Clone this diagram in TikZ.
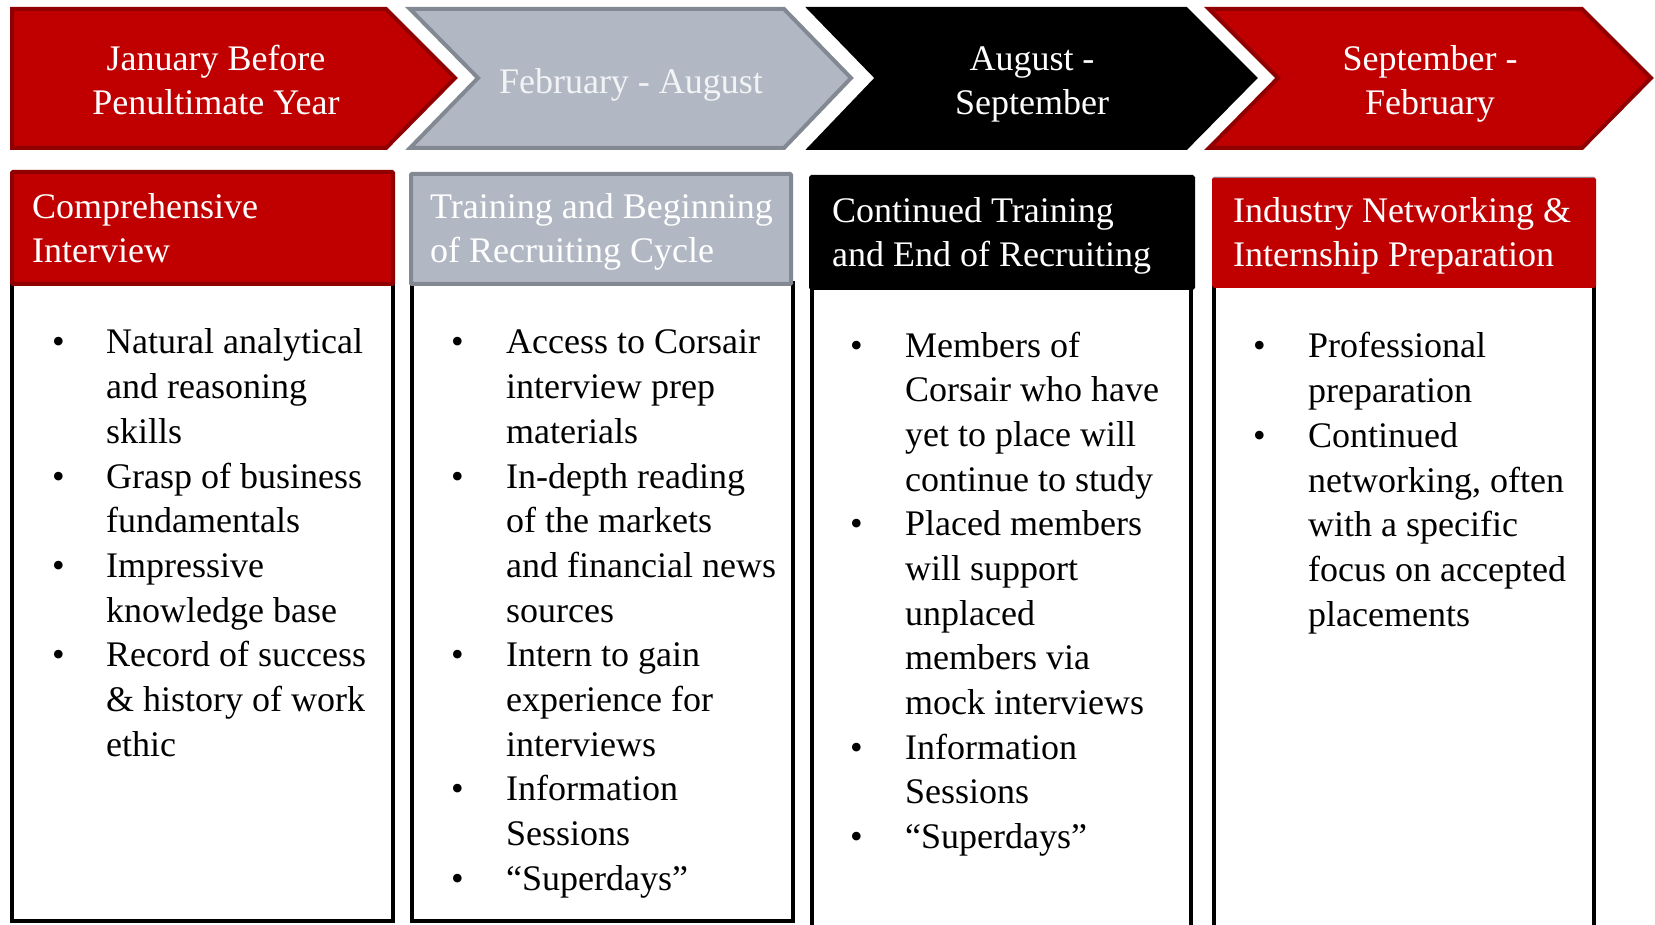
\documentclass[tikz,border=0pt]{standalone}
\usepackage{fontspec}
\setmainfont{Liberation Serif}
\usepackage{array}
\definecolor{cred}{HTML}{C00000}
\definecolor{cdred}{HTML}{900000}
\definecolor{cgray}{HTML}{B1B8C4}
\definecolor{cdgray}{HTML}{838992}
\definecolor{clight}{HTML}{F2F3F5}
\tikzset{
  chev/.style={line width=4pt, line join=miter},
  chevtext/.style={text=white, align=center, font=\fontsize{36}{44}\selectfont, inner sep=0pt},
  headbox/.style={line width=4pt, rounded corners=1pt},
  headtext/.style={text=white, align=left, anchor=west, font=\fontsize{36}{44}\selectfont, inner sep=0pt},
  bodybox/.style={draw=black, line width=4pt, fill=white},
  bodytext/.style={anchor=base west, inner sep=0pt, font=\fontsize{36}{44.7}\selectfont},
}
\begin{document}
\begin{tikzpicture}[x=1pt, y=-1pt]
\useasboundingbox[fill=white] (0,0) rectangle (1655,925);
% chevrons
\draw[chev, fill=cred, draw=cdred] (12,9) -- (386,9) -- (455,78) -- (386,148) -- (12,148) -- cycle;
\draw[chev, fill=cgray, draw=cdgray] (410,9) -- (784,9) -- (851,78) -- (784,148) -- (410,148) -- (478,78) -- cycle;
\draw[chev, fill=black, draw=black] (810,9) -- (1186,9) -- (1255,78) -- (1186,148) -- (810,148) -- (877,78) -- cycle;
\draw[chev, fill=cred, draw=cdred] (1209,9) -- (1582,9) -- (1651,78) -- (1582,148) -- (1209,148) -- (1278,78) -- cycle;
\node[chevtext] (c1) at (216,80) {January Before\\Penultimate Year};
\node[chevtext, text=clight] (c2) at (631,85) {February - August};
\node[chevtext] (c3) at (1032,84) {August -\\September};
\node[chevtext] (c4) at (1430,84) {September -\\February};
% bodies
\draw[bodybox] (12,283) rectangle (393,921);
\draw[bodybox] (412,283) rectangle (793,921);
\draw[bodybox] (812,287) rectangle (1191,960);
\draw[bodybox] (1214,285) rectangle (1594,960);
% headers
\draw[headbox, fill=cred, draw=cdred] (12,172) rectangle (393,284);
\draw[headbox, fill=cgray, draw=cdgray] (411,174) rectangle (791,284);
\draw[headbox, fill=black, draw=black] (811,177) rectangle (1193,288);
\draw[headbox, fill=cred, draw=cred] (1214,179) rectangle (1594,286);
\draw[line width=1pt, draw=cdgray] (1214,177.5) -- (1594,177.5);
\node[headtext] (h1) at (32,228) {Comprehensive\\Interview};
\node[headtext] (h2) at (430,232) {Training and Beginning\\of Recruiting Cycle};
\node[headtext] (h3) at (832,236) {Continued Training\\and End of Recruiting};
\node[headtext] (h4) at (1233,236) {Industry Networking \&\\Internship Preparation};
% bullet lists
\node[bodytext] (l1) at (52,354) {\begin{tabular}[t]{@{}p{54pt}@{}l@{}}
\textbullet & Natural analytical\\
 & and reasoning\\
 & skills\\
\textbullet & Grasp of business\\
 & fundamentals\\
\textbullet & Impressive\\
 & knowledge base\\
\textbullet & Record of success\\
 & \& history of work\\
 & ethic
\end{tabular}};
\node[bodytext] (l2) at (451,354) {\begin{tabular}[t]{@{}p{55pt}@{}l@{}}
\textbullet & Access to Corsair\\
 & interview prep\\
 & materials\\
\textbullet & In-depth reading\\
 & of the markets\\
 & and financial news\\
 & sources\\
\textbullet & Intern to gain\\
 & experience for\\
 & interviews\\
\textbullet & Information\\
 & Sessions\\
\textbullet & ``Superdays''
\end{tabular}};
\node[bodytext] (l3) at (850,357) {\begin{tabular}[t]{@{}p{55pt}@{}l@{}}
\textbullet & Members of\\
 & Corsair who have\\
 & yet to place will\\
 & continue to study\\
\textbullet & Placed members\\
 & will support\\
 & unplaced\\
 & members via\\
 & mock interviews\\
\textbullet & Information\\
 & Sessions\\
\textbullet & ``Superdays''
\end{tabular}};
\node[bodytext] (l4) at (1253,358) {\begin{tabular}[t]{@{}p{55pt}@{}l@{}}
\textbullet & Professional\\
 & preparation\\
\textbullet & Continued\\
 & networking, often\\
 & with a specific\\
 & focus on accepted\\
 & placements
\end{tabular}};
\end{tikzpicture}
\end{document}
